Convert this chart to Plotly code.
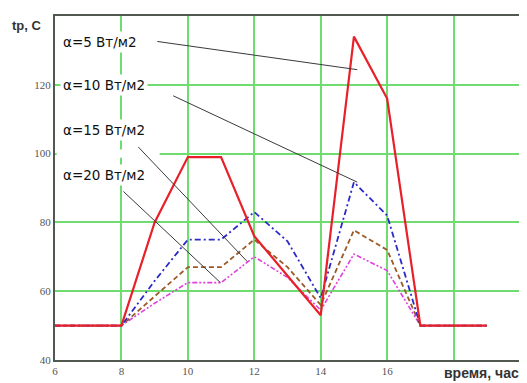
import plotly.graph_objects as go

hours = [6, 7, 8, 9, 10, 11, 12, 13, 14, 15, 16, 17, 18, 19]
t_a5 = [50, 50, 50, 80, 99, 99, 76, 64.5, 53, 134, 116, 50, 50, 50]
t_a10 = [50, 50, 50, 63, 75, 75, 83, 74.5, 58, 91.7, 82, 50, 50, 50]
t_a15 = [50, 50, 50, 58.5, 67, 67, 75, 67, 56, 77.7, 72, 50, 50, 50]
t_a20 = [50, 50, 50, 56.5, 62.5, 62.5, 70, 64, 54.5, 70.8, 66, 50, 50, 50]

x_ticks = [6, 8, 10, 12, 14, 16, 18, 20]
x_labels = ["6", "8", "10", "12", "14", "16", "", ""]
y_ticks = [40, 60, 80, 100, 120, 140]
y_labels = ["40", "60", "80", "100", "120", ""]

labels = ["\u03b1=5 Вт/м2", "\u03b1=10 Вт/м2", "\u03b1=15 Вт/м2", "\u03b1=20 Вт/м2"]

fig = go.Figure()
fig.add_trace(go.Scatter(x=hours, y=t_a20, mode="lines",
                         line=dict(color="#e040e0", width=1.6, dash="5px,2px,2px,2px,2px,2px")))
fig.add_trace(go.Scatter(x=hours, y=t_a15, mode="lines",
                         line=dict(color="#9a5a2a", width=1.8, dash="5px,3px")))
fig.add_trace(go.Scatter(x=hours, y=t_a10, mode="lines",
                         line=dict(color="#2a2ac8", width=1.8, dash="6px,3px,2px,3px")))
fig.add_trace(go.Scatter(x=hours, y=t_a5, mode="lines",
                         line=dict(color="#e8202a", width=2.2)))

# leader lines from label to curve (data coords)
leaders = [
    (9.08, 132.6, 15.1, 124.4),
    (9.56, 116.8, 15.1, 91.7),
    (8.51, 101.9, 11.79, 68.6),
    (8.06, 89.0, 10.98, 62.5),
]
shapes = [dict(type="rect", xref="x", yref="y", x0=6.05, x1=9.15, y0=98.8, y1=101.2,
               fillcolor="white", line=dict(width=0), layer="between")]
for x0, y0, x1, y1 in leaders:
    shapes.append(dict(type="line", xref="x", yref="y", x0=x0, y0=y0, x1=x1, y1=y1,
                       line=dict(color="#3a3a3a", width=1), layer="above"))

label_y = [42, 85, 130, 175]
annotations = []
for txt, py in zip(labels, label_y):
    annotations.append(dict(text=txt, xref="paper", yref="paper",
                            x=(60 - 55) / 465, y=1 - (py - 16) / 344,
                            xanchor="left", yanchor="middle", showarrow=False,
                            bgcolor="white", borderpad=2,
                            font=dict(family="DejaVu Sans", size=13.5, color="#111")))
annotations.append(dict(text="<b>tр, С</b>", xref="paper", yref="paper",
                        x=(10 - 55) / 465, y=1 - (25 - 16) / 344,
                        xanchor="left", yanchor="middle", showarrow=False,
                        font=dict(family="Liberation Sans, Arial", size=13, color="#333")))
annotations.append(dict(text="<b>время, час</b>", xref="paper", yref="paper",
                        x=(442 - 55) / 465, y=-(373 - 360) / 344,
                        xanchor="left", yanchor="middle", showarrow=False,
                        font=dict(family="Liberation Sans, Arial", size=14, color="#333")))

axis_common = dict(showgrid=True, gridcolor="#70dc70", gridwidth=1.5,
                   showline=True, linecolor="#505850", linewidth=2, mirror=True,
                   zeroline=False, ticks="",
                   tickfont=dict(family="Liberation Serif, Times New Roman", size=11, color="#555"))

fig.update_layout(
    width=519, height=375,
    margin=dict(l=47, r=7, t=8, b=23, autoexpand=False),
    paper_bgcolor="white", plot_bgcolor="white",
    showlegend=False,
    xaxis=dict(range=[6, 20], tickvals=x_ticks, ticktext=x_labels, **axis_common),
    yaxis=dict(range=[40, 140], tickvals=y_ticks, ticktext=y_labels, **axis_common),
    shapes=shapes,
    annotations=annotations,
)

fig.write_html("out.html")
